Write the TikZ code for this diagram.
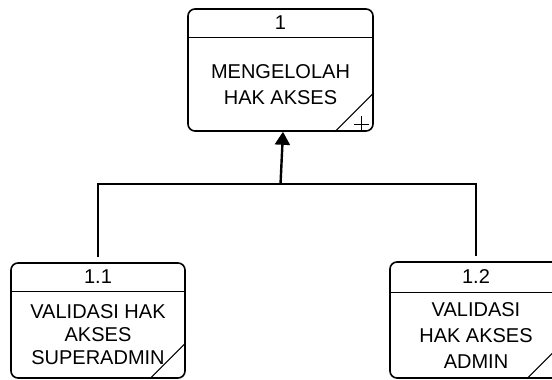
\documentclass[tikz,border=0pt]{standalone}
\usepackage{fontspec}
\setmainfont{Liberation Sans}
\usetikzlibrary{positioning,arrows.meta}

\begin{document}
\begin{tikzpicture}[x=1pt,y=1pt,
	proses/.style={draw, line width=1.6pt, rounded corners=7pt, inner sep=0pt},
	nomor/.style={inner sep=0pt, minimum height=29pt, font=\fontsize{20}{26}\selectfont},
	isi/.style={inner sep=0pt, align=center, font=\fontsize{20}{26}\selectfont},
	garis/.style={line width=1.6pt},
	panah/.style={line width=2.4pt, -{Triangle[length=13pt,width=15pt]}}]
	\useasboundingbox (0,0) rectangle (552,-380);
	% proses induk
	\node [proses, minimum width=185pt, minimum height=122pt] (p1) at (280.5,-70) {};
	\node [nomor, below=0pt of p1.north] (p1no) {1};
	\draw [garis] (p1.west |- p1no.south) -- (p1.east |- p1no.south);
	\node [isi, below=0pt of p1no, minimum height=93pt] (p1isi) {MENGELOLAH\\HAK AKSES};
	\draw [line width=1pt] ([xshift=-39pt]p1.south east) -- ([yshift=39pt]p1.south east);
	\draw [line width=1.2pt] ([xshift=-20pt,yshift=7pt]p1.south east) -- ([xshift=-5pt,yshift=7pt]p1.south east);
	\draw [line width=1.2pt] ([xshift=-12pt]p1.south east) -- ([xshift=-12pt,yshift=16pt]p1.south east);
	% sub proses
	\node [proses, minimum width=174pt, minimum height=115pt] (p11) at (98,-320.5) {};
	\node [nomor, below=0pt of p11.north] (p11no) {1.1};
	\draw [garis] (p11.west |- p11no.south) -- (p11.east |- p11no.south);
	\node [isi, below=0pt of p11no, minimum height=86pt, font=\fontsize{20}{23}\selectfont] (p11isi) {VALIDASI HAK\\AKSES\\SUPERADMIN};
	\draw [line width=1pt] ([xshift=-36pt]p11.south east) -- ([yshift=36pt]p11.south east);
	\node [proses, minimum width=172pt, minimum height=116pt] (p12) at (476,-320) {};
	\node [nomor, below=0pt of p12.north, minimum height=31pt] (p12no) {1.2};
	\draw [garis] (p12.west |- p12no.south) -- (p12.east |- p12no.south);
	\node [isi, below=0pt of p12no, minimum height=85pt] (p12isi) {VALIDASI\\HAK AKSES\\ADMIN};
	\draw [line width=1pt] ([xshift=-36pt]p12.south east) -- ([yshift=36pt]p12.south east);
	% penghubung
	\draw [garis, shorten <=5pt, shorten >=5pt] (p11.north) -- ++(0,78) coordinate (kiri) -| (p12.north);
	\coordinate (cabang) at (kiri -| p1.south);
	\draw [panah] (cabang) -- ([xshift=2.5pt]p1.south);
\end{tikzpicture}
\end{document}
